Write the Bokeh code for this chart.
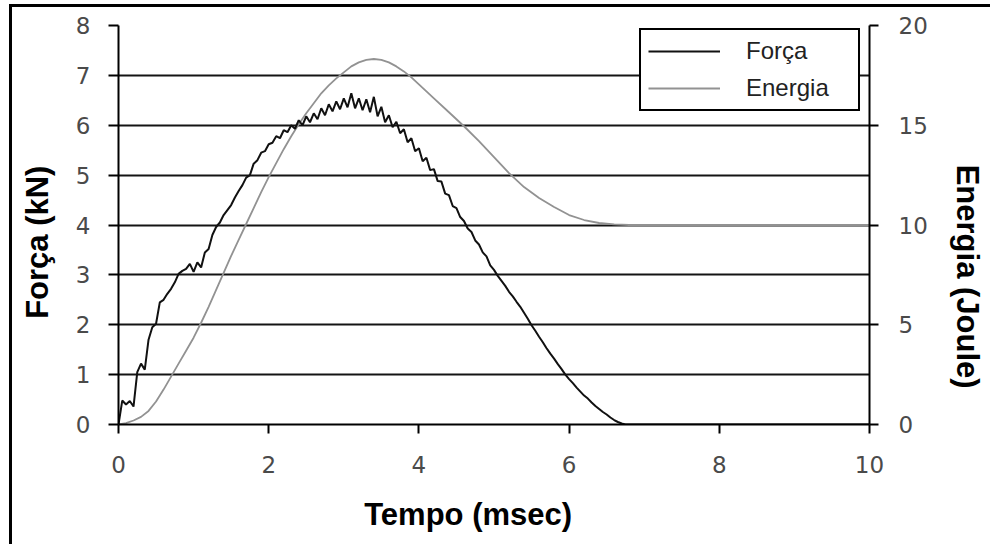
from bokeh.plotting import figure
from bokeh.models import (Range1d, LinearAxis, FixedTicker, Grid, Legend, LegendItem,
                          ColumnDataSource)
from bokeh.embed import file_html
from bokeh.resources import INLINE

# ---------------- data ----------------
force_t = [0.00, 0.05, 0.10, 0.15, 0.20, 0.25, 0.30, 0.35, 0.40, 0.45,
           0.50, 0.55, 0.60, 0.65, 0.70, 0.75, 0.80, 0.85, 0.90, 0.95,
           1.00, 1.05, 1.10, 1.15, 1.20, 1.25, 1.30, 1.35, 1.40, 1.45,
           1.50, 1.55, 1.60, 1.65, 1.70, 1.75, 1.80, 1.85, 1.90, 1.95,
           2.00, 2.05, 2.10, 2.15, 2.20, 2.25, 2.30, 2.35, 2.40, 2.45,
           2.50, 2.55, 2.60, 2.65, 2.70, 2.75, 2.80, 2.85, 2.90, 2.95,
           3.00, 3.05, 3.10, 3.15, 3.20, 3.25, 3.30, 3.35, 3.40, 3.45,
           3.50, 3.55, 3.60, 3.65, 3.70, 3.75, 3.80, 3.85, 3.90, 3.95,
           4.00, 4.05, 4.10, 4.15, 4.20, 4.25, 4.30, 4.35, 4.40, 4.45,
           4.50, 4.55, 4.60, 4.65, 4.70, 4.75, 4.80, 4.85, 4.90, 4.95,
           5.00, 5.05, 5.10, 5.15, 5.20, 5.25, 5.30, 5.35, 5.40, 5.45,
           5.50, 5.55, 5.60, 5.65, 5.70, 5.75, 5.80, 5.85, 5.90, 5.95,
           6.00, 6.05, 6.10, 6.15, 6.20, 6.25, 6.30, 6.35, 6.40, 6.45,
           6.50, 6.55, 6.60, 6.65, 6.70, 6.75, 10.0]
force_kn = [0.00, 0.48, 0.40, 0.47, 0.36, 1.05, 1.22, 1.10, 1.70, 1.95,
            2.02, 2.45, 2.50, 2.62, 2.72, 2.85, 3.02, 3.08, 3.12, 3.22,
            3.06, 3.25, 3.15, 3.45, 3.52, 3.80, 3.96, 4.05, 4.20, 4.30,
            4.40, 4.55, 4.68, 4.80, 4.95, 5.00, 5.23, 5.30, 5.45, 5.48,
            5.62, 5.65, 5.78, 5.74, 5.90, 5.86, 6.00, 5.93, 6.10, 6.00,
            6.18, 6.06, 6.24, 6.12, 6.34, 6.20, 6.42, 6.28, 6.48, 6.32,
            6.54, 6.36, 6.64, 6.34, 6.54, 6.30, 6.52, 6.26, 6.57, 6.18,
            6.37, 6.06, 6.20, 5.96, 6.07, 5.84, 5.92, 5.66, 5.74, 5.48,
            5.54, 5.28, 5.35, 5.10, 5.12, 4.88, 4.87, 4.63, 4.60, 4.38,
            4.34, 4.16, 4.08, 3.93, 3.86, 3.69, 3.61, 3.45, 3.37, 3.19,
            3.10, 2.98, 2.88, 2.78, 2.66, 2.57, 2.46, 2.36, 2.24, 2.12,
            1.99, 1.88, 1.76, 1.65, 1.53, 1.42, 1.32, 1.21, 1.11, 1.00,
            0.91, 0.83, 0.74, 0.66, 0.58, 0.52, 0.44, 0.37, 0.31, 0.25,
            0.20, 0.14, 0.09, 0.05, 0.02, 0.00, 0.00]

energy_t = [0.0, 0.1, 0.2, 0.3, 0.4, 0.5, 0.6, 0.7, 0.8, 0.9,
            1.0, 1.1, 1.2, 1.3, 1.4, 1.5, 1.6, 1.7, 1.8, 1.9,
            2.0, 2.1, 2.2, 2.3, 2.4, 2.5, 2.6, 2.7, 2.8, 2.9,
            3.0, 3.1, 3.2, 3.3, 3.4, 3.5, 3.6, 3.7, 3.8, 3.9,
            4.0, 4.2, 4.4, 4.6, 4.8, 5.0, 5.2, 5.4, 5.6, 5.8,
            6.0, 6.2, 6.4, 6.6, 6.8, 10.0]
energy_j = [0.00, 0.07, 0.20, 0.38, 0.68, 1.15, 1.75, 2.40, 3.05, 3.70,
            4.35, 5.10, 5.90, 6.75, 7.60, 8.45, 9.25, 10.05, 10.85, 11.65,
            12.40, 13.10, 13.80, 14.45, 15.05, 15.60, 16.10, 16.60, 17.00, 17.35,
            17.65, 17.95, 18.15, 18.28, 18.32, 18.28, 18.15, 17.95, 17.70, 17.40,
            17.05, 16.35, 15.65, 14.95, 14.20, 13.40, 12.60, 11.90, 11.35, 10.90,
            10.50, 10.25, 10.10, 10.03, 10.00, 10.00]

x_ticks = [0, 2, 4, 6, 8, 10]
force_ticks = [0, 1, 2, 3, 4, 5, 6, 7, 8]
energy_ticks = [0, 5, 10, 15, 20]
series_names = ["Força", "Energia"]
x_title = "Tempo (msec)"
y_title = "Força (kN)"
y2_title = "Energia (Joule)"

NB = "\u00a0"  # non-breaking pad to offset a title from the axis centre

# ---------------- figure ----------------
p = figure(frame_width=751, frame_height=399,
           output_backend="svg", toolbar_location=None,
           x_range=Range1d(0, 10), y_range=Range1d(0, 8),
           min_border_left=106, min_border_right=121,
           min_border_top=18, min_border_bottom=120,
           background_fill_color="white", border_fill_color="white",
           outline_line_color=None)
p.styles = {"margin-left": "9px", "margin-top": "4px",
            "border-left": "3px solid black", "border-top": "3px solid black"}
p.extra_y_ranges = {"energy": Range1d(0, 20)}

TICK_FONT = "DejaVu Sans"
TICK_SIZE = "23px"
TICK_COLOR = "#4a4a4a"
TITLE_FONT = "Liberation Sans"
TITLE_SIZE = "31px"

ya = p.yaxis[0]
ya.ticker = FixedTicker(ticks=force_ticks)
xa = p.xaxis[0]
xa.ticker = FixedTicker(ticks=x_ticks)
ra = LinearAxis(y_range_name="energy", ticker=FixedTicker(ticks=energy_ticks))
p.add_layout(ra, "right")

for ax in (xa, ya, ra):
    ax.axis_line_color = "black"
    ax.axis_line_width = 2
    ax.major_tick_line_color = "black"
    ax.major_tick_line_width = 2
    ax.major_tick_in = 0
    ax.major_tick_out = 9
    ax.minor_tick_line_color = None
    ax.major_label_text_font = TICK_FONT
    ax.major_label_text_font_size = TICK_SIZE
    ax.major_label_text_color = TICK_COLOR
    ax.axis_label_text_font = TITLE_FONT
    ax.axis_label_text_font_size = TITLE_SIZE
    ax.axis_label_text_font_style = "bold"
    ax.axis_label_text_color = "black"
ya.major_tick_out = 10
ya.major_label_standoff = 18
ra.major_label_standoff = 20
xa.major_label_standoff = 22

xa.axis_label = x_title + NB * 6
xa.axis_label_standoff = 21
ya.axis_label = y_title + NB * 4
ya.axis_label_standoff = 18
ra.axis_label = NB * 12 + y2_title
ra.axis_label_standoff = 19

# grid
p.xgrid.grid_line_color = None
p.ygrid.ticker = FixedTicker(ticks=[1, 2, 3, 4, 5, 6, 7])
p.ygrid.grid_line_color = "#141414"
p.ygrid.grid_line_width = 2
top_grid = Grid(dimension=1, ticker=FixedTicker(ticks=[8]),
                grid_line_color="#9a9a9a", grid_line_width=2)
p.add_layout(top_grid)

# data lines
src_f = ColumnDataSource(dict(t=force_t, f=force_kn))
src_e = ColumnDataSource(dict(t=energy_t, e=energy_j))
r_e = p.line("t", "e", source=src_e, y_range_name="energy",
             line_color="#929292", line_width=1.8)
r_f = p.line("t", "f", source=src_f, line_color="#111111", line_width=2)

legend = Legend(items=[LegendItem(label=series_names[0], renderers=[r_f]),
                       LegendItem(label=series_names[1], renderers=[r_e])],
                location=(521, 313), orientation="vertical",
                padding=7, spacing=9, margin=0,
                glyph_width=72, glyph_height=26, label_height=26,
                label_width=105, label_standoff=26,
                label_text_font="Liberation Sans", label_text_font_size="24px",
                label_text_color="#222222",
                border_line_color="black", border_line_width=2,
                border_line_alpha=1.0,
                background_fill_color="white", background_fill_alpha=1.0)
p.add_layout(legend)

open("out.html", "w").write(file_html(p, INLINE))
